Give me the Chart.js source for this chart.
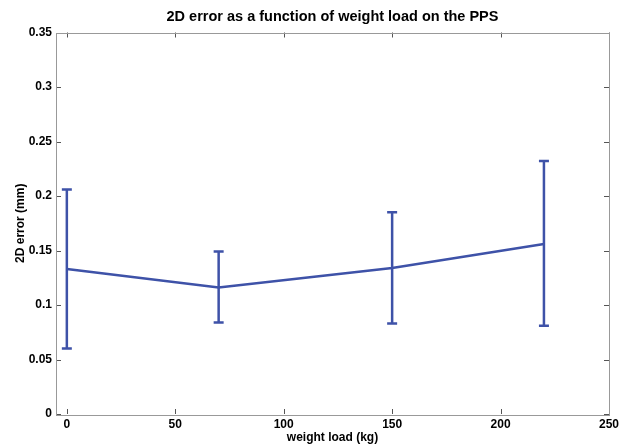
<!DOCTYPE html>
<html>
<head>
<meta charset="utf-8">
<script src="https://cdn.jsdelivr.net/npm/chart.js@4/dist/chart.umd.min.js"></script>
<style>
  body { margin: 0; background: #fff; }
</style>
</head>
<body>
<canvas id="myChart" width="627" height="447"></canvas>
<script>
const loads = [0, 70, 150, 220]
const meanErr = [0.133, 0.116, 0.134, 0.156]
const lowErr = [0.060, 0.084, 0.083, 0.081]
const highErr = [0.206, 0.149, 0.185, 0.232]
const xTicks = [0, 50, 100, 150, 200, 250]
const yTicks = [0, 0.05, 0.1, 0.15, 0.2, 0.25, 0.3, 0.35]

const blue = 'rgb(62, 82, 168)'
const font = 'Liberation Sans, Arial, sans-serif'

// error bars + matlab style box with inward ticks
const boxPlugin = {
    id: 'box',
    afterDatasetsDraw(chart) {
        const ctx = chart.ctx
        const xs = chart.scales.x, ys = chart.scales.y
        ctx.save()
        ctx.strokeStyle = blue
        ctx.lineWidth = 2.5
        for (let i = 0; i < loads.length; i++) {
            let px = xs.getPixelForValue(loads[i])
            let top = ys.getPixelForValue(highErr[i])
            let bot = ys.getPixelForValue(lowErr[i])
            ctx.beginPath()
            ctx.moveTo(px, top); ctx.lineTo(px, bot)
            ctx.moveTo(px - 5, top); ctx.lineTo(px + 5, top)
            ctx.moveTo(px - 5, bot); ctx.lineTo(px + 5, bot)
            ctx.stroke()
        }
        const a = chart.chartArea
        ctx.strokeStyle = '#555'
        ctx.lineWidth = 1
        ctx.beginPath()
        xTicks.forEach(v => {
            let px = Math.round(xs.getPixelForValue(v)) + 0.5
            ctx.moveTo(px, a.bottom); ctx.lineTo(px, a.bottom - 5)
            ctx.moveTo(px, a.top); ctx.lineTo(px, a.top + 5)
        })
        yTicks.forEach(v => {
            let py = Math.round(ys.getPixelForValue(v)) + 0.5
            ctx.moveTo(a.left, py); ctx.lineTo(a.left + 5, py)
            ctx.moveTo(a.right, py); ctx.lineTo(a.right - 5, py)
        })
        ctx.stroke()
        ctx.strokeStyle = '#999'
        ctx.strokeRect(Math.round(a.left) + 0.5, Math.round(a.top) + 0.5,
            Math.round(a.right - a.left), Math.round(a.bottom - a.top))
        ctx.restore()
    }
}

new Chart(document.getElementById('myChart'), {
    type: 'line',
    data: {
        datasets: [{
            data: loads.map((x, i) => ({x: x, y: meanErr[i]})),
            borderColor: blue,
            borderWidth: 2.5,
            pointRadius: 0,
            tension: 0
        }]
    },
    options: {
        responsive: false,
        animation: false,
        layout: {padding: {left: 0, right: 18, top: 0, bottom: 0}},
        plugins: {
            legend: {display: false},
            tooltip: {enabled: false},
            title: {
                display: true,
                fullSize: false,
                text: '2D error as a function of weight load on the PPS',
                color: '#000',
                font: {family: font, size: 14.5, weight: 'bold', lineHeight: 1.2},
                padding: {top: 8.1, bottom: 7}
            }
        },
        scales: {
            x: {
                type: 'linear',
                min: -5,
                max: 250,
                afterBuildTicks: s => { s.ticks = xTicks.map(v => ({value: v})) },
                afterFit: s => { s.height = 33 },
                grid: {display: false, drawTicks: false},
                border: {display: false},
                ticks: {color: '#000', padding: 3, maxRotation: 0,
                    font: {family: font, size: 12, weight: 'bold'}},
                title: {display: true, text: 'weight load (kg)', color: '#000',
                    font: {family: font, size: 12, weight: 'bold', lineHeight: 1.2},
                    padding: {top: 0, bottom: 2}}
            },
            y: {
                min: 0,
                max: 0.35,
                afterBuildTicks: s => { s.ticks = yTicks.map(v => ({value: v})) },
                afterFit: s => { s.width = 56 },
                grid: {display: false, drawTicks: false},
                border: {display: false},
                ticks: {color: '#000', padding: 4,
                    font: {family: font, size: 12, weight: 'bold'},
                    callback: v => String(+v.toFixed(2))},
                title: {display: true, text: '2D error (mm)', color: '#000',
                    font: {family: font, size: 12, weight: 'bold', lineHeight: 1.2},
                    padding: {top: 13, bottom: 0}}
            }
        }
    },
    plugins: [boxPlugin]
})
</script>
</body>
</html>
